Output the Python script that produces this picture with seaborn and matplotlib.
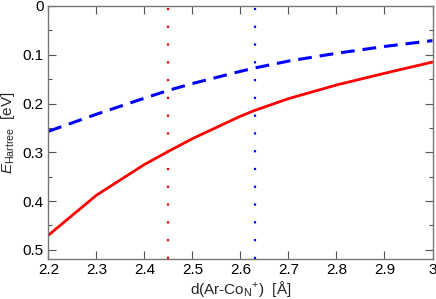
import matplotlib
matplotlib.use("Agg")
import matplotlib.pyplot as plt
import seaborn as sns
import pandas as pd
from matplotlib.ticker import MultipleLocator

distance = [2.2, 2.3, 2.4, 2.45, 2.5, 2.6, 2.63, 2.7, 2.8, 2.9, 3.0]
e_red = [0.470, 0.388, 0.325, 0.298, 0.272, 0.226, 0.214, 0.190, 0.162, 0.138, 0.115]
e_blue = [0.257, 0.222, 0.189, 0.173, 0.159, 0.134, 0.127, 0.113, 0.097, 0.083, 0.071]
vline_red = 2.45
vline_blue = 2.63
xticks = [2.2, 2.3, 2.4, 2.5, 2.6, 2.7, 2.8, 2.9, 3.0]
yticks = [0, 0.1, 0.2, 0.3, 0.4, 0.5]

sns.set_style("ticks")
plt.rcParams['font.family'] = ['Liberation Sans', 'DejaVu Sans']
plt.rcParams['mathtext.fontset'] = 'custom'
plt.rcParams['mathtext.rm'] = 'Liberation Sans'
plt.rcParams['mathtext.it'] = 'Liberation Sans:italic'

df = pd.DataFrame({"d": distance, "red": e_red, "blue": e_blue})

fig, ax = plt.subplots(figsize=(4.36, 2.99), dpi=100)
fig.subplots_adjust(left=0.111, right=0.992, top=0.98, bottom=0.135)

sns.lineplot(data=df, x="d", y="red", ax=ax, color="#ff0000", lw=2)
sns.lineplot(data=df, x="d", y="blue", ax=ax, color="#0000ff", lw=2.2, linestyle=(0, (4.5, 2.6)))
ax.axvline(vline_red, color="#ff0000", lw=1.6, linestyle=(0, (1, 7)))
ax.axvline(vline_blue, color="#0000ff", lw=1.6, linestyle=(0, (1, 7)))

ax.set_xlim(2.2, 3.0)
ax.set_ylim(0.518, 0)
ax.set_xticks(xticks)
ax.set_xticklabels(["2.2", "2.3", "2.4", "2.5", "2.6", "2.7", "2.8", "2.9", "3"])
ax.set_yticks(yticks)
ax.set_yticklabels(["0", "0.1", "0.2", "0.3", "0.4", "0.5"])
ax.yaxis.set_minor_locator(MultipleLocator(0.05))
ax.tick_params(which="both", direction="in", top=True, right=True, colors="#555555",
               labelcolor="black", labelsize=11)
ax.tick_params(which="major", length=6, width=0.8)
ax.tick_params(which="minor", length=3, width=0.8)
for s in ax.spines.values():
    s.set_color("#777777")
    s.set_linewidth(1)

ax.set_xlabel(r"d(Ar-Co$_{\mathregular{N}}$$^{+}$)  [Å]", fontsize=11, labelpad=1)
ax.set_ylabel(r"$E_{\mathregular{Hartree}}$  [eV]", fontsize=11, labelpad=4)

fig.savefig("out.png", dpi=100)
